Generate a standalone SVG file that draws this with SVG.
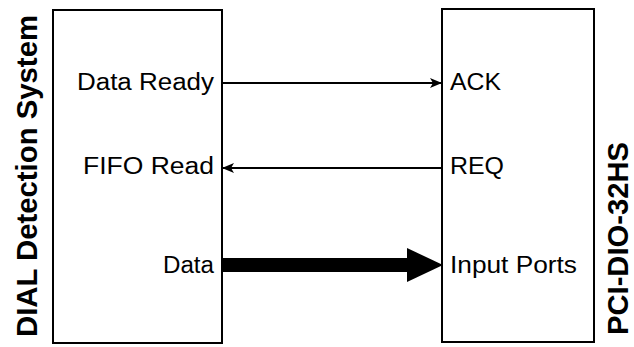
<svg xmlns="http://www.w3.org/2000/svg" width="634" height="347" viewBox="0 0 634 347">
<style>
.box{fill:#fff;stroke:#000;stroke-width:2}
.lbl{font-family:"Liberation Sans",Arial,sans-serif;font-size:23px;fill:#000}
.title{font-family:"Liberation Sans",Arial,sans-serif;font-size:30px;font-weight:bold;fill:#000}
.wire{stroke:#000;stroke-width:2;fill:none}
</style>
<defs>
<marker id="ah" viewBox="0 0 12 10" refX="12" refY="5" markerWidth="12" markerHeight="10" markerUnits="userSpaceOnUse" orient="auto">
<path d="M0,0 L12,5 L0,10 L3,5 Z" fill="#000"/>
</marker>
</defs>
<rect width="634" height="347" fill="#fff"/>
<g id="dial">
<rect class="box" x="53" y="10" width="169" height="333"/>
<text class="title" transform="translate(37,337) rotate(-90)" textLength="322" lengthAdjust="spacingAndGlyphs">DIAL Detection System</text>
<text class="lbl" x="214" y="90" text-anchor="end" textLength="137" lengthAdjust="spacingAndGlyphs">Data Ready</text>
<text class="lbl" x="214" y="174" text-anchor="end" textLength="131" lengthAdjust="spacingAndGlyphs">FIFO Read</text>
<text class="lbl" x="214" y="273" text-anchor="end" textLength="51" lengthAdjust="spacingAndGlyphs">Data</text>
</g>
<g id="pci">
<rect class="box" x="442" y="9" width="152" height="333"/>
<text class="title" transform="translate(628,335) rotate(-90)" textLength="193" lengthAdjust="spacingAndGlyphs">PCI-DIO-32HS</text>
<text class="lbl" x="450" y="90" textLength="51" lengthAdjust="spacingAndGlyphs">ACK</text>
<text class="lbl" x="450" y="174" textLength="54" lengthAdjust="spacingAndGlyphs">REQ</text>
<text class="lbl" x="450" y="273" textLength="127" lengthAdjust="spacingAndGlyphs">Input Ports</text>
</g>
<g id="connectors">
<line class="wire" x1="222" y1="83" x2="442" y2="83" marker-end="url(#ah)"/>
<line class="wire" x1="442" y1="168" x2="222" y2="168" marker-end="url(#ah)"/>
<rect x="222" y="258" width="187" height="14" fill="#000"/>
<polygon points="407,248 443,265 407,282" fill="#000"/>
</g>
</svg>
